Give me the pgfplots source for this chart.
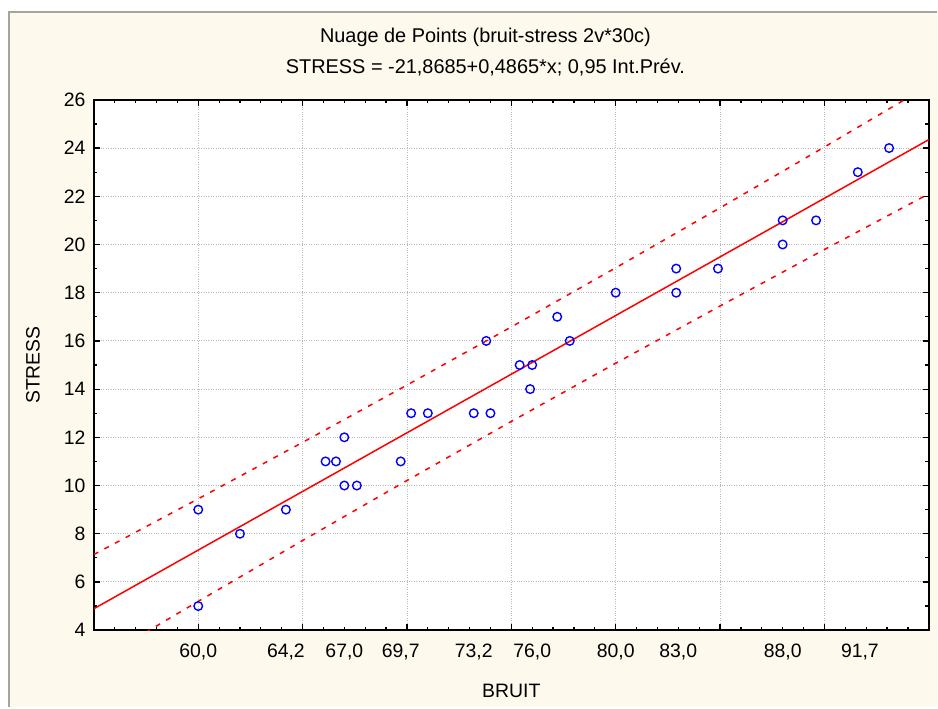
\documentclass[border=0pt]{standalone}
\usepackage{fontspec}
\setmainfont{Liberation Sans}
\usepackage{pgfplots}
\usepackage{pgfplotstable}
\pgfplotsset{compat=1.18}
\definecolor{cream}{RGB}{254,249,237}
\definecolor{frameg}{RGB}{165,165,155}
\definecolor{ptblue}{RGB}{0,0,255}
\definecolor{fitred}{RGB}{255,0,0}
\definecolor{gridg}{RGB}{185,185,185}

\pgfplotstableread{
x y
60 9
60 5
62 8
64.2 9
66.1 11
66.6 11
67 12
67 10
67.6 10
69.7 11
70.2 13
71 13
73.2 13
74 13
73.8 16
75.4 15
76 15
75.9 14
77.2 17
77.8 16
80 18
82.9 19
82.9 18
84.9 19
88 21
88 20
89.6 21
91.6 23
93.1 24
}\points

\pgfplotstableread{
x fit upper lower
55 4.889 7.138 2.640
60 7.322 9.449 5.195
65 9.754 11.790 7.718
70 12.187 14.166 10.208
75 14.619 16.579 12.659
80 17.052 19.031 15.073
85 19.484 21.520 17.448
90 21.917 24.044 19.790
95 24.349 26.598 22.100
}\fitdata

\begin{document}
\begin{tikzpicture}[x=1bp,y=1bp]
\fill[white] (-94,-77) rectangle (844,631);
\fill[cream] (-85,-77) rectangle (844,619);
\draw[frameg, line width=2.5bp] (-85,-77) -- (-85,619) -- (844,619);
\begin{axis}[
  at={(0,0)}, anchor=south west,
  scale only axis, width=836bp, height=531bp,
  xmin=55, xmax=95, ymin=4, ymax=26,
  axis background/.style={fill=white},
  axis line style={black, line width=1.6bp},
  every tick/.style={black, line width=1.2bp},
  major tick length=6bp, minor tick length=3.5bp,
  xtick={55,60,...,95}, xticklabels={},
  minor x tick num=4,
  ytick={4,6,...,26},
  minor y tick num=1,
  grid=major,
  major grid style={gridg, dotted, line width=0.9bp},
  extra x ticks={60,64.2,67,69.7,73.2,76,80,83,88,91.7},
  extra x tick labels={{60,0},{64,2},{67,0},{69,7},{73,2},{76,0},{80,0},{83,0},{88,0},{91,7}},
  extra x tick style={grid=none, major tick length=0pt},
  /pgf/number format/assume math mode=true,
  tick label style={font=\fontsize{19.5}{23}\selectfont, black},
  xticklabel style={yshift=-10bp},
  yticklabel style={xshift=-5bp},
  xlabel={BRUIT},
  ylabel={STRESS},
  every axis x label/.style={at={(axis description cs:0.5,0)}, yshift=-61bp, anchor=center, font=\fontsize{19.5}{23}\selectfont},
  every axis y label/.style={at={(axis description cs:0,0.5)}, xshift=-61bp, rotate=90, anchor=center, font=\fontsize{19.5}{23}\selectfont},
  title={Nuage de Points (bruit-stress 2v*30c)\\STRESS = -21,8685+0,4865*x; 0,95 Int.Prév.},
  title style={at={(axis description cs:0.5,1)}, anchor=center, xshift=-26bp, yshift=42bp, align=center, font=\fontsize{20}{31}\selectfont},
]
\addplot[fitred, line width=1.5bp] table[x=x, y=fit] {\fitdata};
\addplot[fitred, line width=1.5bp, dash pattern=on 5bp off 7bp] table[x=x, y=upper] {\fitdata};
\addplot[fitred, line width=1.5bp, dash pattern=on 5bp off 7bp] table[x=x, y=lower] {\fitdata};
\addplot[only marks, mark=o, mark size=4.3bp, mark options={ptblue, line width=1.4bp}] table[x=x, y=y] {\points};
\end{axis}
\end{tikzpicture}
\end{document}
